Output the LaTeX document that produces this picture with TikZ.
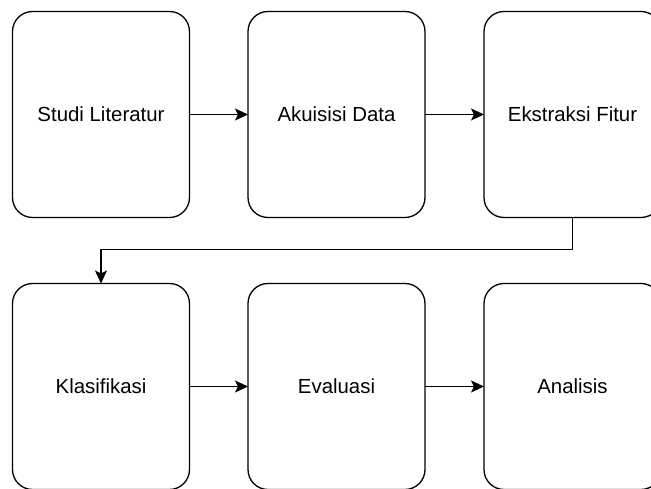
\documentclass[tikz,border=0pt]{standalone}
\usepackage{fontspec}
\setmainfont{Liberation Sans}
\usetikzlibrary{arrows.meta}
\begin{document}
\begin{tikzpicture}[
  x=1pt,y=-1pt,
  every node/.style={draw,rounded corners=20pt,minimum width=177pt,minimum height=206pt,
    line width=1.3pt,inner sep=0pt,outer sep=0pt,font=\fontsize{20.4}{24}\selectfont},
  flow/.style={line width=1.3pt,-{Stealth[length=13pt,width=12pt,inset=3pt]}}
]
  \useasboundingbox (0,0) rectangle (651,489);
  \node (s1) at (101,114.5)   {Studi Literatur};
  \node (s2) at (336.5,114.5) {Akuisisi Data};
  \node (s3) at (572.5,114.5) {Ekstraksi Fitur};
  \node (s4) at (101,386.5)   {Klasifikasi};
  \node (s5) at (336.5,386.5) {Evaluasi};
  \node (s6) at (572.5,386.5) {Analisis};

  \draw[flow] (s1)--(s2);
  \draw[flow] (s2)--(s3);
  \draw[flow] (s3.south) -- ++(0,32) -| (s4.north);
  \draw[flow] (s4)--(s5);
  \draw[flow] (s5)--(s6);
\end{tikzpicture}
\end{document}
